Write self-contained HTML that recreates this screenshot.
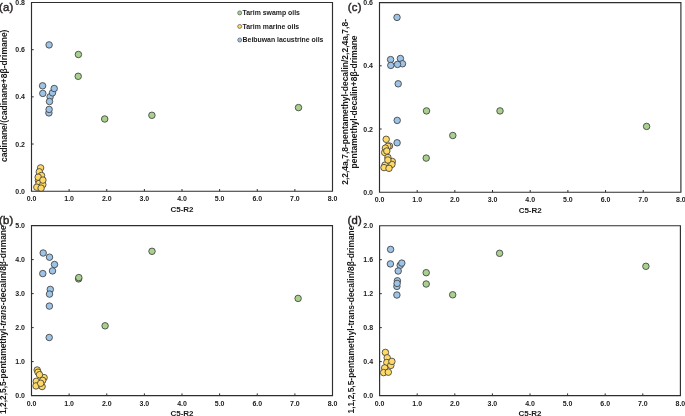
<!DOCTYPE html>
<html><head><meta charset="utf-8"><style>
html,body{margin:0;padding:0;background:#fff;width:685px;height:416px;overflow:hidden}
svg text{font-family:"Liberation Sans", sans-serif;font-weight:bold;fill:#1a1a1a}
svg{-webkit-font-smoothing:antialiased}
.t{opacity:0.999;will-change:transform}
</style></head><body>
<svg width="685" height="416" viewBox="0 0 685 416" style="position:absolute;left:0;top:0;will-change:transform">
<rect width="685" height="416" fill="#fff"/>
<path d="M31.5,2.5 H332.5 V191.2 H31.5 Z" fill="none" stroke="#2e2e2e" stroke-width="1.15"/>
<text x="31.50" y="201.30" font-size="7.0" text-anchor="middle">0.0</text>
<line x1="69.12" y1="191.2" x2="69.12" y2="189.0" stroke="#2e2e2e" stroke-width="1"/>
<text x="69.12" y="201.30" font-size="7.0" text-anchor="middle">1.0</text>
<line x1="106.75" y1="191.2" x2="106.75" y2="189.0" stroke="#2e2e2e" stroke-width="1"/>
<text x="106.75" y="201.30" font-size="7.0" text-anchor="middle">2.0</text>
<line x1="144.38" y1="191.2" x2="144.38" y2="189.0" stroke="#2e2e2e" stroke-width="1"/>
<text x="144.38" y="201.30" font-size="7.0" text-anchor="middle">3.0</text>
<line x1="182.00" y1="191.2" x2="182.00" y2="189.0" stroke="#2e2e2e" stroke-width="1"/>
<text x="182.00" y="201.30" font-size="7.0" text-anchor="middle">4.0</text>
<line x1="219.62" y1="191.2" x2="219.62" y2="189.0" stroke="#2e2e2e" stroke-width="1"/>
<text x="219.62" y="201.30" font-size="7.0" text-anchor="middle">5.0</text>
<line x1="257.25" y1="191.2" x2="257.25" y2="189.0" stroke="#2e2e2e" stroke-width="1"/>
<text x="257.25" y="201.30" font-size="7.0" text-anchor="middle">6.0</text>
<line x1="294.88" y1="191.2" x2="294.88" y2="189.0" stroke="#2e2e2e" stroke-width="1"/>
<text x="294.88" y="201.30" font-size="7.0" text-anchor="middle">7.0</text>
<text x="332.50" y="201.30" font-size="7.0" text-anchor="middle">8.0</text>
<text x="25.00" y="193.70" font-size="7.0" text-anchor="end">0.0</text>
<line x1="31.5" y1="144.02" x2="33.7" y2="144.02" stroke="#2e2e2e" stroke-width="1"/>
<text x="25.00" y="146.52" font-size="7.0" text-anchor="end">0.2</text>
<line x1="31.5" y1="96.85" x2="33.7" y2="96.85" stroke="#2e2e2e" stroke-width="1"/>
<text x="25.00" y="99.35" font-size="7.0" text-anchor="end">0.4</text>
<line x1="31.5" y1="49.68" x2="33.7" y2="49.68" stroke="#2e2e2e" stroke-width="1"/>
<text x="25.00" y="52.18" font-size="7.0" text-anchor="end">0.6</text>
<text x="25.00" y="5.00" font-size="7.0" text-anchor="end">0.8</text>
<text x="182.00" y="211.80" font-size="8" text-anchor="middle">C5-R2</text>
<circle cx="49.1" cy="44.9" r="3.25" fill="#9DC3E6" stroke="#404040" stroke-width="0.85"/>
<circle cx="42.6" cy="85.8" r="3.25" fill="#9DC3E6" stroke="#404040" stroke-width="0.85"/>
<circle cx="42.8" cy="93.4" r="3.25" fill="#9DC3E6" stroke="#404040" stroke-width="0.85"/>
<circle cx="50.1" cy="96.8" r="3.25" fill="#9DC3E6" stroke="#404040" stroke-width="0.85"/>
<circle cx="52.5" cy="92.8" r="3.25" fill="#9DC3E6" stroke="#404040" stroke-width="0.85"/>
<circle cx="54.2" cy="88.5" r="3.25" fill="#9DC3E6" stroke="#404040" stroke-width="0.85"/>
<circle cx="49.5" cy="101.5" r="3.25" fill="#9DC3E6" stroke="#404040" stroke-width="0.85"/>
<circle cx="48.9" cy="112.9" r="3.25" fill="#9DC3E6" stroke="#404040" stroke-width="0.85"/>
<circle cx="49.1" cy="109.4" r="3.25" fill="#9DC3E6" stroke="#404040" stroke-width="0.85"/>
<circle cx="78.4" cy="54.5" r="3.25" fill="#A9D18E" stroke="#404040" stroke-width="0.85"/>
<circle cx="78.2" cy="76.3" r="3.25" fill="#A9D18E" stroke="#404040" stroke-width="0.85"/>
<circle cx="104.7" cy="119.0" r="3.25" fill="#A9D18E" stroke="#404040" stroke-width="0.85"/>
<circle cx="151.9" cy="115.3" r="3.25" fill="#A9D18E" stroke="#404040" stroke-width="0.85"/>
<circle cx="298.5" cy="107.6" r="3.25" fill="#A9D18E" stroke="#404040" stroke-width="0.85"/>
<circle cx="40.6" cy="167.9" r="3.25" fill="#FFD966" stroke="#404040" stroke-width="0.85"/>
<circle cx="39.3" cy="171.8" r="3.25" fill="#FFD966" stroke="#404040" stroke-width="0.85"/>
<circle cx="41.5" cy="175.5" r="3.25" fill="#FFD966" stroke="#404040" stroke-width="0.85"/>
<circle cx="38.4" cy="180.5" r="3.25" fill="#FFD966" stroke="#404040" stroke-width="0.85"/>
<circle cx="38.2" cy="177.2" r="3.25" fill="#FFD966" stroke="#404040" stroke-width="0.85"/>
<circle cx="39.0" cy="183.5" r="3.25" fill="#FFD966" stroke="#404040" stroke-width="0.85"/>
<circle cx="42.8" cy="184.6" r="3.25" fill="#FFD966" stroke="#404040" stroke-width="0.85"/>
<circle cx="42.9" cy="180.1" r="3.25" fill="#FFD966" stroke="#404040" stroke-width="0.85"/>
<circle cx="36.8" cy="187.2" r="3.25" fill="#FFD966" stroke="#404040" stroke-width="0.85"/>
<circle cx="41.1" cy="188.1" r="3.25" fill="#FFD966" stroke="#404040" stroke-width="0.85"/>
<path d="M379.5,2.6 H680.9 V192.2 H379.5 Z" fill="none" stroke="#2e2e2e" stroke-width="1.15"/>
<text x="379.50" y="202.30" font-size="7.0" text-anchor="middle">0.0</text>
<line x1="417.18" y1="192.2" x2="417.18" y2="190.0" stroke="#2e2e2e" stroke-width="1"/>
<text x="417.18" y="202.30" font-size="7.0" text-anchor="middle">1.0</text>
<line x1="454.85" y1="192.2" x2="454.85" y2="190.0" stroke="#2e2e2e" stroke-width="1"/>
<text x="454.85" y="202.30" font-size="7.0" text-anchor="middle">2.0</text>
<line x1="492.52" y1="192.2" x2="492.52" y2="190.0" stroke="#2e2e2e" stroke-width="1"/>
<text x="492.52" y="202.30" font-size="7.0" text-anchor="middle">3.0</text>
<line x1="530.20" y1="192.2" x2="530.20" y2="190.0" stroke="#2e2e2e" stroke-width="1"/>
<text x="530.20" y="202.30" font-size="7.0" text-anchor="middle">4.0</text>
<line x1="567.88" y1="192.2" x2="567.88" y2="190.0" stroke="#2e2e2e" stroke-width="1"/>
<text x="567.88" y="202.30" font-size="7.0" text-anchor="middle">5.0</text>
<line x1="605.55" y1="192.2" x2="605.55" y2="190.0" stroke="#2e2e2e" stroke-width="1"/>
<text x="605.55" y="202.30" font-size="7.0" text-anchor="middle">6.0</text>
<line x1="643.22" y1="192.2" x2="643.22" y2="190.0" stroke="#2e2e2e" stroke-width="1"/>
<text x="643.22" y="202.30" font-size="7.0" text-anchor="middle">7.0</text>
<text x="680.90" y="202.30" font-size="7.0" text-anchor="middle">8.0</text>
<text x="373.00" y="194.70" font-size="7.0" text-anchor="end">0.0</text>
<line x1="379.5" y1="129.00" x2="381.7" y2="129.00" stroke="#2e2e2e" stroke-width="1"/>
<text x="373.00" y="131.50" font-size="7.0" text-anchor="end">0.2</text>
<line x1="379.5" y1="65.80" x2="381.7" y2="65.80" stroke="#2e2e2e" stroke-width="1"/>
<text x="373.00" y="68.30" font-size="7.0" text-anchor="end">0.4</text>
<text x="373.00" y="5.10" font-size="7.0" text-anchor="end">0.6</text>
<text x="530.20" y="212.80" font-size="8" text-anchor="middle">C5-R2</text>
<circle cx="397.0" cy="17.4" r="3.25" fill="#9DC3E6" stroke="#404040" stroke-width="0.85"/>
<circle cx="390.6" cy="59.6" r="3.25" fill="#9DC3E6" stroke="#404040" stroke-width="0.85"/>
<circle cx="390.8" cy="65.4" r="3.25" fill="#9DC3E6" stroke="#404040" stroke-width="0.85"/>
<circle cx="400.4" cy="58.5" r="3.25" fill="#9DC3E6" stroke="#404040" stroke-width="0.85"/>
<circle cx="402.5" cy="63.75" r="3.25" fill="#9DC3E6" stroke="#404040" stroke-width="0.85"/>
<circle cx="397.5" cy="64.4" r="3.25" fill="#9DC3E6" stroke="#404040" stroke-width="0.85"/>
<circle cx="398.2" cy="83.8" r="3.25" fill="#9DC3E6" stroke="#404040" stroke-width="0.85"/>
<circle cx="397.2" cy="120.4" r="3.25" fill="#9DC3E6" stroke="#404040" stroke-width="0.85"/>
<circle cx="397.1" cy="142.8" r="3.25" fill="#9DC3E6" stroke="#404040" stroke-width="0.85"/>
<circle cx="426.5" cy="110.9" r="3.25" fill="#A9D18E" stroke="#404040" stroke-width="0.85"/>
<circle cx="500.0" cy="110.9" r="3.25" fill="#A9D18E" stroke="#404040" stroke-width="0.85"/>
<circle cx="452.8" cy="135.5" r="3.25" fill="#A9D18E" stroke="#404040" stroke-width="0.85"/>
<circle cx="426.2" cy="158.1" r="3.25" fill="#A9D18E" stroke="#404040" stroke-width="0.85"/>
<circle cx="646.6" cy="126.4" r="3.25" fill="#A9D18E" stroke="#404040" stroke-width="0.85"/>
<circle cx="386.2" cy="139.3" r="3.25" fill="#FFD966" stroke="#404040" stroke-width="0.85"/>
<circle cx="389.5" cy="146.0" r="3.25" fill="#FFD966" stroke="#404040" stroke-width="0.85"/>
<circle cx="387.9" cy="146.3" r="3.25" fill="#FFD966" stroke="#404040" stroke-width="0.85"/>
<circle cx="385.4" cy="148.1" r="3.25" fill="#FFD966" stroke="#404040" stroke-width="0.85"/>
<circle cx="384.7" cy="152.5" r="3.25" fill="#FFD966" stroke="#404040" stroke-width="0.85"/>
<circle cx="386.8" cy="151.0" r="3.25" fill="#FFD966" stroke="#404040" stroke-width="0.85"/>
<circle cx="387.9" cy="157.5" r="3.25" fill="#FFD966" stroke="#404040" stroke-width="0.85"/>
<circle cx="392.3" cy="161.5" r="3.25" fill="#FFD966" stroke="#404040" stroke-width="0.85"/>
<circle cx="391.9" cy="164.4" r="3.25" fill="#FFD966" stroke="#404040" stroke-width="0.85"/>
<circle cx="385.0" cy="165.1" r="3.25" fill="#FFD966" stroke="#404040" stroke-width="0.85"/>
<circle cx="387.9" cy="160.0" r="3.25" fill="#FFD966" stroke="#404040" stroke-width="0.85"/>
<circle cx="384.0" cy="167.6" r="3.25" fill="#FFD966" stroke="#404040" stroke-width="0.85"/>
<circle cx="389.0" cy="168.3" r="3.25" fill="#FFD966" stroke="#404040" stroke-width="0.85"/>
<path d="M31.5,225.6 H332.5 V395.6 H31.5 Z" fill="none" stroke="#2e2e2e" stroke-width="1.15"/>
<text x="31.50" y="405.70" font-size="7.0" text-anchor="middle">0.0</text>
<line x1="69.12" y1="395.6" x2="69.12" y2="393.40000000000003" stroke="#2e2e2e" stroke-width="1"/>
<text x="69.12" y="405.70" font-size="7.0" text-anchor="middle">1.0</text>
<line x1="106.75" y1="395.6" x2="106.75" y2="393.40000000000003" stroke="#2e2e2e" stroke-width="1"/>
<text x="106.75" y="405.70" font-size="7.0" text-anchor="middle">2.0</text>
<line x1="144.38" y1="395.6" x2="144.38" y2="393.40000000000003" stroke="#2e2e2e" stroke-width="1"/>
<text x="144.38" y="405.70" font-size="7.0" text-anchor="middle">3.0</text>
<line x1="182.00" y1="395.6" x2="182.00" y2="393.40000000000003" stroke="#2e2e2e" stroke-width="1"/>
<text x="182.00" y="405.70" font-size="7.0" text-anchor="middle">4.0</text>
<line x1="219.62" y1="395.6" x2="219.62" y2="393.40000000000003" stroke="#2e2e2e" stroke-width="1"/>
<text x="219.62" y="405.70" font-size="7.0" text-anchor="middle">5.0</text>
<line x1="257.25" y1="395.6" x2="257.25" y2="393.40000000000003" stroke="#2e2e2e" stroke-width="1"/>
<text x="257.25" y="405.70" font-size="7.0" text-anchor="middle">6.0</text>
<line x1="294.88" y1="395.6" x2="294.88" y2="393.40000000000003" stroke="#2e2e2e" stroke-width="1"/>
<text x="294.88" y="405.70" font-size="7.0" text-anchor="middle">7.0</text>
<text x="332.50" y="405.70" font-size="7.0" text-anchor="middle">8.0</text>
<text x="25.00" y="398.10" font-size="7.0" text-anchor="end">0.0</text>
<line x1="31.5" y1="361.60" x2="33.7" y2="361.60" stroke="#2e2e2e" stroke-width="1"/>
<text x="25.00" y="364.10" font-size="7.0" text-anchor="end">1.0</text>
<line x1="31.5" y1="327.60" x2="33.7" y2="327.60" stroke="#2e2e2e" stroke-width="1"/>
<text x="25.00" y="330.10" font-size="7.0" text-anchor="end">2.0</text>
<line x1="31.5" y1="293.60" x2="33.7" y2="293.60" stroke="#2e2e2e" stroke-width="1"/>
<text x="25.00" y="296.10" font-size="7.0" text-anchor="end">3.0</text>
<line x1="31.5" y1="259.60" x2="33.7" y2="259.60" stroke="#2e2e2e" stroke-width="1"/>
<text x="25.00" y="262.10" font-size="7.0" text-anchor="end">4.0</text>
<text x="25.00" y="228.10" font-size="7.0" text-anchor="end">5.0</text>
<text x="182.00" y="416.20" font-size="8" text-anchor="middle">C5-R2</text>
<circle cx="43.2" cy="253.0" r="3.25" fill="#9DC3E6" stroke="#404040" stroke-width="0.85"/>
<circle cx="49.5" cy="257.2" r="3.25" fill="#9DC3E6" stroke="#404040" stroke-width="0.85"/>
<circle cx="54.5" cy="264.5" r="3.25" fill="#9DC3E6" stroke="#404040" stroke-width="0.85"/>
<circle cx="52.5" cy="270.9" r="3.25" fill="#9DC3E6" stroke="#404040" stroke-width="0.85"/>
<circle cx="42.8" cy="273.6" r="3.25" fill="#9DC3E6" stroke="#404040" stroke-width="0.85"/>
<circle cx="50.3" cy="289.4" r="3.25" fill="#9DC3E6" stroke="#404040" stroke-width="0.85"/>
<circle cx="49.5" cy="294.1" r="3.25" fill="#9DC3E6" stroke="#404040" stroke-width="0.85"/>
<circle cx="49.4" cy="306.1" r="3.25" fill="#9DC3E6" stroke="#404040" stroke-width="0.85"/>
<circle cx="49.2" cy="337.5" r="3.25" fill="#9DC3E6" stroke="#404040" stroke-width="0.85"/>
<circle cx="78.6" cy="278.9" r="3.25" fill="#A9D18E" stroke="#404040" stroke-width="0.85"/>
<circle cx="78.8" cy="277.6" r="3.25" fill="#A9D18E" stroke="#404040" stroke-width="0.85"/>
<circle cx="152.0" cy="251.3" r="3.25" fill="#A9D18E" stroke="#404040" stroke-width="0.85"/>
<circle cx="105.1" cy="325.8" r="3.25" fill="#A9D18E" stroke="#404040" stroke-width="0.85"/>
<circle cx="298.1" cy="298.4" r="3.25" fill="#A9D18E" stroke="#404040" stroke-width="0.85"/>
<circle cx="37.2" cy="370.0" r="3.25" fill="#FFD966" stroke="#404040" stroke-width="0.85"/>
<circle cx="38.0" cy="372.2" r="3.25" fill="#FFD966" stroke="#404040" stroke-width="0.85"/>
<circle cx="44.1" cy="377.6" r="3.25" fill="#FFD966" stroke="#404040" stroke-width="0.85"/>
<circle cx="42.7" cy="380.4" r="3.25" fill="#FFD966" stroke="#404040" stroke-width="0.85"/>
<circle cx="39.5" cy="374.7" r="3.25" fill="#FFD966" stroke="#404040" stroke-width="0.85"/>
<circle cx="36.3" cy="381.3" r="3.25" fill="#FFD966" stroke="#404040" stroke-width="0.85"/>
<circle cx="36.0" cy="385.9" r="3.25" fill="#FFD966" stroke="#404040" stroke-width="0.85"/>
<circle cx="42.1" cy="386.5" r="3.25" fill="#FFD966" stroke="#404040" stroke-width="0.85"/>
<circle cx="40.7" cy="383.3" r="3.25" fill="#FFD966" stroke="#404040" stroke-width="0.85"/>
<path d="M379.6,225.7 H680.4 V395.6 H379.6 Z" fill="none" stroke="#2e2e2e" stroke-width="1.15"/>
<text x="379.60" y="405.70" font-size="7.0" text-anchor="middle">0.0</text>
<line x1="417.20" y1="395.6" x2="417.20" y2="393.40000000000003" stroke="#2e2e2e" stroke-width="1"/>
<text x="417.20" y="405.70" font-size="7.0" text-anchor="middle">1.0</text>
<line x1="454.80" y1="395.6" x2="454.80" y2="393.40000000000003" stroke="#2e2e2e" stroke-width="1"/>
<text x="454.80" y="405.70" font-size="7.0" text-anchor="middle">2.0</text>
<line x1="492.40" y1="395.6" x2="492.40" y2="393.40000000000003" stroke="#2e2e2e" stroke-width="1"/>
<text x="492.40" y="405.70" font-size="7.0" text-anchor="middle">3.0</text>
<line x1="530.00" y1="395.6" x2="530.00" y2="393.40000000000003" stroke="#2e2e2e" stroke-width="1"/>
<text x="530.00" y="405.70" font-size="7.0" text-anchor="middle">4.0</text>
<line x1="567.60" y1="395.6" x2="567.60" y2="393.40000000000003" stroke="#2e2e2e" stroke-width="1"/>
<text x="567.60" y="405.70" font-size="7.0" text-anchor="middle">5.0</text>
<line x1="605.20" y1="395.6" x2="605.20" y2="393.40000000000003" stroke="#2e2e2e" stroke-width="1"/>
<text x="605.20" y="405.70" font-size="7.0" text-anchor="middle">6.0</text>
<line x1="642.80" y1="395.6" x2="642.80" y2="393.40000000000003" stroke="#2e2e2e" stroke-width="1"/>
<text x="642.80" y="405.70" font-size="7.0" text-anchor="middle">7.0</text>
<text x="680.40" y="405.70" font-size="7.0" text-anchor="middle">8.0</text>
<text x="373.10" y="398.10" font-size="7.0" text-anchor="end">0.0</text>
<line x1="379.6" y1="361.62" x2="381.8" y2="361.62" stroke="#2e2e2e" stroke-width="1"/>
<text x="373.10" y="364.12" font-size="7.0" text-anchor="end">0.4</text>
<line x1="379.6" y1="327.64" x2="381.8" y2="327.64" stroke="#2e2e2e" stroke-width="1"/>
<text x="373.10" y="330.14" font-size="7.0" text-anchor="end">0.8</text>
<line x1="379.6" y1="293.66" x2="381.8" y2="293.66" stroke="#2e2e2e" stroke-width="1"/>
<text x="373.10" y="296.16" font-size="7.0" text-anchor="end">1.2</text>
<line x1="379.6" y1="259.68" x2="381.8" y2="259.68" stroke="#2e2e2e" stroke-width="1"/>
<text x="373.10" y="262.18" font-size="7.0" text-anchor="end">1.6</text>
<text x="373.10" y="228.20" font-size="7.0" text-anchor="end">2.0</text>
<text x="530.00" y="416.20" font-size="8" text-anchor="middle">C5-R2</text>
<circle cx="390.6" cy="249.4" r="3.25" fill="#9DC3E6" stroke="#404040" stroke-width="0.85"/>
<circle cx="390.4" cy="263.9" r="3.25" fill="#9DC3E6" stroke="#404040" stroke-width="0.85"/>
<circle cx="400.2" cy="265.3" r="3.25" fill="#9DC3E6" stroke="#404040" stroke-width="0.85"/>
<circle cx="401.8" cy="263.1" r="3.25" fill="#9DC3E6" stroke="#404040" stroke-width="0.85"/>
<circle cx="398.2" cy="271" r="3.25" fill="#9DC3E6" stroke="#404040" stroke-width="0.85"/>
<circle cx="397.4" cy="280.8" r="3.25" fill="#9DC3E6" stroke="#404040" stroke-width="0.85"/>
<circle cx="396.9" cy="286.4" r="3.25" fill="#9DC3E6" stroke="#404040" stroke-width="0.85"/>
<circle cx="397.1" cy="283.4" r="3.25" fill="#9DC3E6" stroke="#404040" stroke-width="0.85"/>
<circle cx="396.9" cy="295" r="3.25" fill="#9DC3E6" stroke="#404040" stroke-width="0.85"/>
<circle cx="426.2" cy="272.7" r="3.25" fill="#A9D18E" stroke="#404040" stroke-width="0.85"/>
<circle cx="426.2" cy="284.0" r="3.25" fill="#A9D18E" stroke="#404040" stroke-width="0.85"/>
<circle cx="452.7" cy="294.8" r="3.25" fill="#A9D18E" stroke="#404040" stroke-width="0.85"/>
<circle cx="499.6" cy="253.3" r="3.25" fill="#A9D18E" stroke="#404040" stroke-width="0.85"/>
<circle cx="645.9" cy="266.3" r="3.25" fill="#A9D18E" stroke="#404040" stroke-width="0.85"/>
<circle cx="385.4" cy="352.4" r="3.25" fill="#FFD966" stroke="#404040" stroke-width="0.85"/>
<circle cx="387.2" cy="357.8" r="3.25" fill="#FFD966" stroke="#404040" stroke-width="0.85"/>
<circle cx="386.8" cy="362.5" r="3.25" fill="#FFD966" stroke="#404040" stroke-width="0.85"/>
<circle cx="390.8" cy="365.4" r="3.25" fill="#FFD966" stroke="#404040" stroke-width="0.85"/>
<circle cx="391.9" cy="361.4" r="3.25" fill="#FFD966" stroke="#404040" stroke-width="0.85"/>
<circle cx="384.7" cy="367.9" r="3.25" fill="#FFD966" stroke="#404040" stroke-width="0.85"/>
<circle cx="383.6" cy="372.6" r="3.25" fill="#FFD966" stroke="#404040" stroke-width="0.85"/>
<circle cx="388.3" cy="372.2" r="3.25" fill="#FFD966" stroke="#404040" stroke-width="0.85"/>
<text x="-1.1" y="11.3" font-size="11.3" fill="#352c2c" stroke="#352c2c" stroke-width="0.45" letter-spacing="0.3" style="font-weight:normal">(a)</text>
<text x="347.7" y="11.3" font-size="11.3" fill="#352c2c" stroke="#352c2c" stroke-width="0.45" letter-spacing="0.3" style="font-weight:normal">(c)</text>
<text x="-1.1" y="224.3" font-size="11.3" fill="#352c2c" stroke="#352c2c" stroke-width="0.45" letter-spacing="0.3" style="font-weight:normal">(b)</text>
<text x="347.4" y="224.3" font-size="11.3" fill="#352c2c" stroke="#352c2c" stroke-width="0.45" letter-spacing="0.3" style="font-weight:normal">(d)</text>
<text transform="translate(6.7,95.8) rotate(-90)" font-size="8.5" text-anchor="middle">cadinane/(cadinane+8β-drimane)</text>
<text transform="translate(6.4,319.7) rotate(-90)" font-size="8.46" text-anchor="middle">1,2,2,5,5-pentamethyl-<tspan font-style="italic">trans</tspan>-decalin/8β-drimane</text>
<text transform="translate(347.6,101.9) rotate(-90)" font-size="8.5" text-anchor="middle">2,2,4a,7,8-pentamethyl-decalin/2,2,4a,7,8-</text>
<text transform="translate(357.2,101.9) rotate(-90)" font-size="8.5" text-anchor="middle">pentamethyl-decalin+8β-drimane</text>
<text transform="translate(354.3,319.5) rotate(-90)" font-size="8.42" text-anchor="middle">1,1,2,5,5-pentamethyl-trans-decalin/8β-drimane</text>
<circle cx="239.7" cy="12.90" r="2" fill="#A9D18E" stroke="#404040" stroke-width="0.6"/>
<text x="242.6" y="15.30" font-size="6.9">Tarim swamp oils</text>
<circle cx="239.7" cy="26.45" r="2" fill="#FFD966" stroke="#404040" stroke-width="0.6"/>
<text x="242.6" y="28.85" font-size="6.9">Tarim marine oils</text>
<circle cx="239.7" cy="40.00" r="2" fill="#9DC3E6" stroke="#404040" stroke-width="0.6"/>
<text x="242.6" y="42.40" font-size="6.9">Beibuwan lacustrine oils</text>
</svg>
</body></html>
